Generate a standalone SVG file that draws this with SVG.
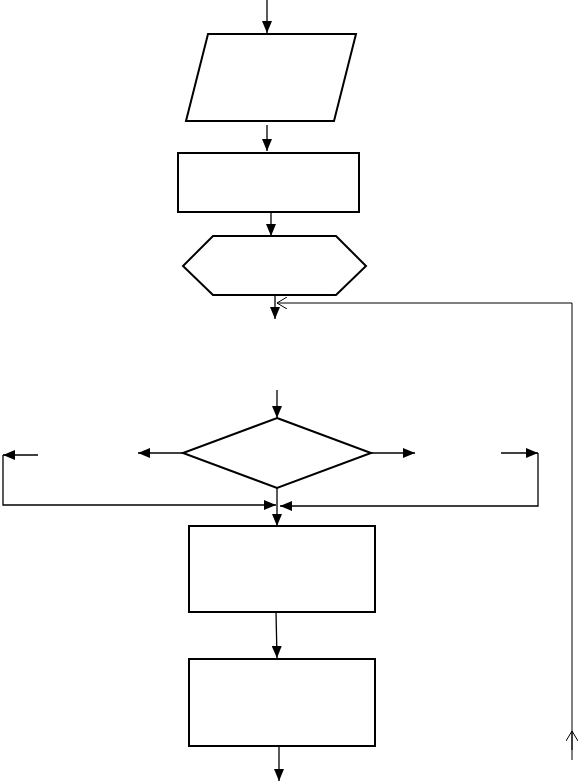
<svg xmlns="http://www.w3.org/2000/svg" width="579" height="783" viewBox="0 0 579 783">
<defs>
<marker id="ah" viewBox="0 0 12 10" refX="12" refY="5" markerWidth="12" markerHeight="10" markerUnits="userSpaceOnUse" orient="auto">
<path d="M0,0 L12,5 L0,10 z" fill="#000"/>
</marker>
<marker id="oh" viewBox="0 0 12 12" refX="11" refY="6" markerWidth="12" markerHeight="12" markerUnits="userSpaceOnUse" orient="auto">
<path d="M1,0 L11,6 L1,12" fill="none" stroke="#000" stroke-width="1"/>
</marker>
</defs>
<style>
.shape{fill:#fff;stroke:#000;stroke-width:2}
.conn{fill:none;stroke:#000;stroke-width:1.3}
.thin{fill:none;stroke:#000;stroke-width:1}
</style>
<rect width="579" height="783" fill="#fff"/>
<g id="connectors">
<path class="conn" d="M267,0 V33" marker-end="url(#ah)"/>
<path class="conn" d="M267,125 V151" marker-end="url(#ah)"/>
<path class="conn" d="M271,212 V236" marker-end="url(#ah)"/>
<path class="conn" d="M275,295 V319" marker-end="url(#ah)"/>
<path class="conn" d="M277,390 V418" marker-end="url(#ah)"/>
<path class="conn" d="M183,453 H138" marker-end="url(#ah)"/>
<path class="conn" d="M38,455 H3" marker-end="url(#ah)"/>
<path class="conn" d="M3,455 V505 H276" marker-end="url(#ah)"/>
<path class="conn" d="M371,453 H415" marker-end="url(#ah)"/>
<path class="conn" d="M501,453 H538" marker-end="url(#ah)"/>
<path class="conn" d="M538,453 V506 H280" marker-end="url(#ah)"/>
<path class="conn" d="M277,488 V526" marker-end="url(#ah)"/>
<path class="conn" d="M276,612 L277,658" marker-end="url(#ah)"/>
<path class="conn" d="M279,747 V781" marker-end="url(#ah)"/>
<path class="thin" d="M572,760 V303 H277" marker-end="url(#oh)"/>
<path class="thin" d="M572,750 V731" marker-end="url(#oh)"/>
</g>
<g id="input">
<polygon class="shape" points="208,34 356,34 334,121 186,121"/>
</g>
<g id="process1">
<rect class="shape" x="178" y="153" width="181" height="59"/>
</g>
<g id="preparation">
<polygon class="shape" points="213,236 336,236 366,266 336,295 213,295 183,266"/>
</g>
<g id="decision">
<polygon class="shape" points="277,418 371,453 277,488 183,453"/>
</g>
<g id="process2">
<rect class="shape" x="189" y="526" width="186" height="86"/>
</g>
<g id="process3">
<rect class="shape" x="189" y="659" width="186" height="87"/>
</g>
</svg>
